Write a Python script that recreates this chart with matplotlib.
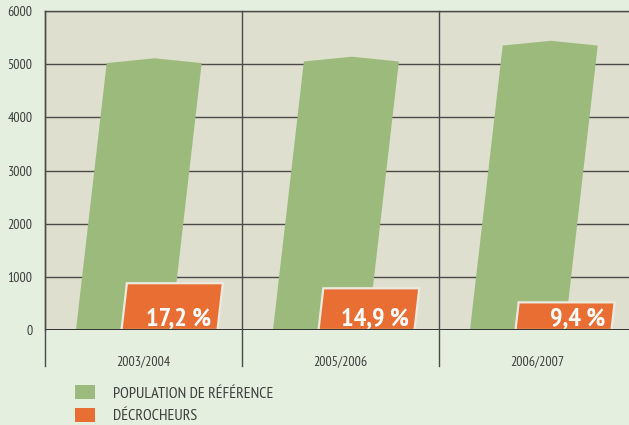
import matplotlib
matplotlib.use("Agg")
import matplotlib.pyplot as plt
from matplotlib.patches import Polygon, Rectangle
from matplotlib.transforms import blended_transform_factory

categories = ["2003/2004", "2005/2006", "2006/2007"]
population = [5110, 5140, 5440]
decrocheurs = [880, 785, 520]
pct_labels = ["17,2\u2009%", "14,9\u2009%", "9,4\u2009%"]
yticks = [0, 1000, 2000, 3000, 4000, 5000, 6000]
legend_labels = ["POPULATION DE RÉFÉRENCE", "DÉCROCHEURS"]

GREEN = "#9bba7c"
ORANGE = "#e96e34"
FIG_BG = "#e4efdf"
AX_BG = "#dedfcf"
LINE = "#4a4a4a"
TXT = "#3c3c3c"

plt.rcParams["font.family"] = ["PT Sans Narrow", "DejaVu Sans"]

W, H = 629, 425
fig = plt.figure(figsize=(W / 100, H / 100), dpi=100, facecolor=FIG_BG)
ax_left, ax_right, ax_top, ax_bot = 45, 636, 11, 330
ax = fig.add_axes([ax_left / W, (H - ax_bot) / H, (ax_right - ax_left) / W, (ax_bot - ax_top) / H])
ax.set_facecolor(AX_BG)
ax.set_xlim(-0.5, 2.5)
ax.set_ylim(0, 6000)

px_per_cat = (ax_right - ax_left) / 3
px_per_unit = (ax_bot - ax_top) / 6000
slope = 0.115 * px_per_unit / px_per_cat  # category units per data unit

for i, (p, d) in enumerate(zip(population, decrocheurs)):
    x0 = i - 67.5 / px_per_cat
    w = 95 / px_per_cat
    sh = p - 90
    pts = [(x0, 0), (x0 + slope * sh, sh), (x0 + w / 2 + slope * p, p),
           (x0 + w + slope * sh, sh), (x0 + w, 0)]
    ax.add_patch(Polygon(pts, closed=True, facecolor=GREEN, edgecolor="none", zorder=3))
    ox0 = i - 22 / px_per_cat
    ow = 96 / px_per_cat
    opts = [(ox0, 0), (ox0 + slope * d, d), (ox0 + ow + slope * d, d), (ox0 + ow, 0)]
    ax.add_patch(Polygon(opts, closed=True, facecolor=ORANGE, edgecolor="#eceadf",
                         linewidth=1.6, zorder=4, joinstyle="miter"))
    ax.text(ox0 + ow - 6 / px_per_cat, 90, pct_labels[i], color="white",
            fontsize=19, fontweight="bold", ha="right", va="baseline", zorder=5)

ax.set_yticks(yticks)
ax.set_yticklabels([str(v) for v in yticks], color=TXT, fontsize=10)
ax.tick_params(axis="y", length=0, pad=9)
ax.set_xticks([])
ax.grid(axis="y", color=LINE, linewidth=1.0, zorder=1)
ax.set_axisbelow(True)
for s in ["right", "bottom"]:
    ax.spines[s].set_visible(False)
for s in ["left", "top"]:
    ax.spines[s].set_color(LINE)
    ax.spines[s].set_linewidth(1.0)
ax.axhline(0, color="#333333", linewidth=1.4, zorder=6)

tr = blended_transform_factory(ax.transData, ax.transAxes)
below = (ax_bot - 366) / (ax_bot - ax_top)
for xs in [-0.5, 0.5, 1.5]:
    ax.plot([xs, xs], [below, 1], transform=tr, color=LINE, linewidth=1.0,
            clip_on=False, zorder=6)
for i, c in enumerate(categories):
    ax.text(i, (ax_bot - 362) / (ax_bot - ax_top), c, transform=tr, ha="center",
            va="center", fontsize=10, color=TXT)

for j, (lab, col) in enumerate(zip(legend_labels, [GREEN, ORANGE])):
    ytop = 385 + j * 23
    fig.add_artist(Rectangle((75 / W, (H - ytop - 14) / H), 20 / W, 14 / H,
                             transform=fig.transFigure, facecolor=col, edgecolor="none"))
    fig.text(113 / W, (H - ytop - 8.5) / H, lab, fontsize=11.5, color=TXT,
             ha="left", va="center")

fig.savefig("out.png", dpi=100, facecolor=FIG_BG)
